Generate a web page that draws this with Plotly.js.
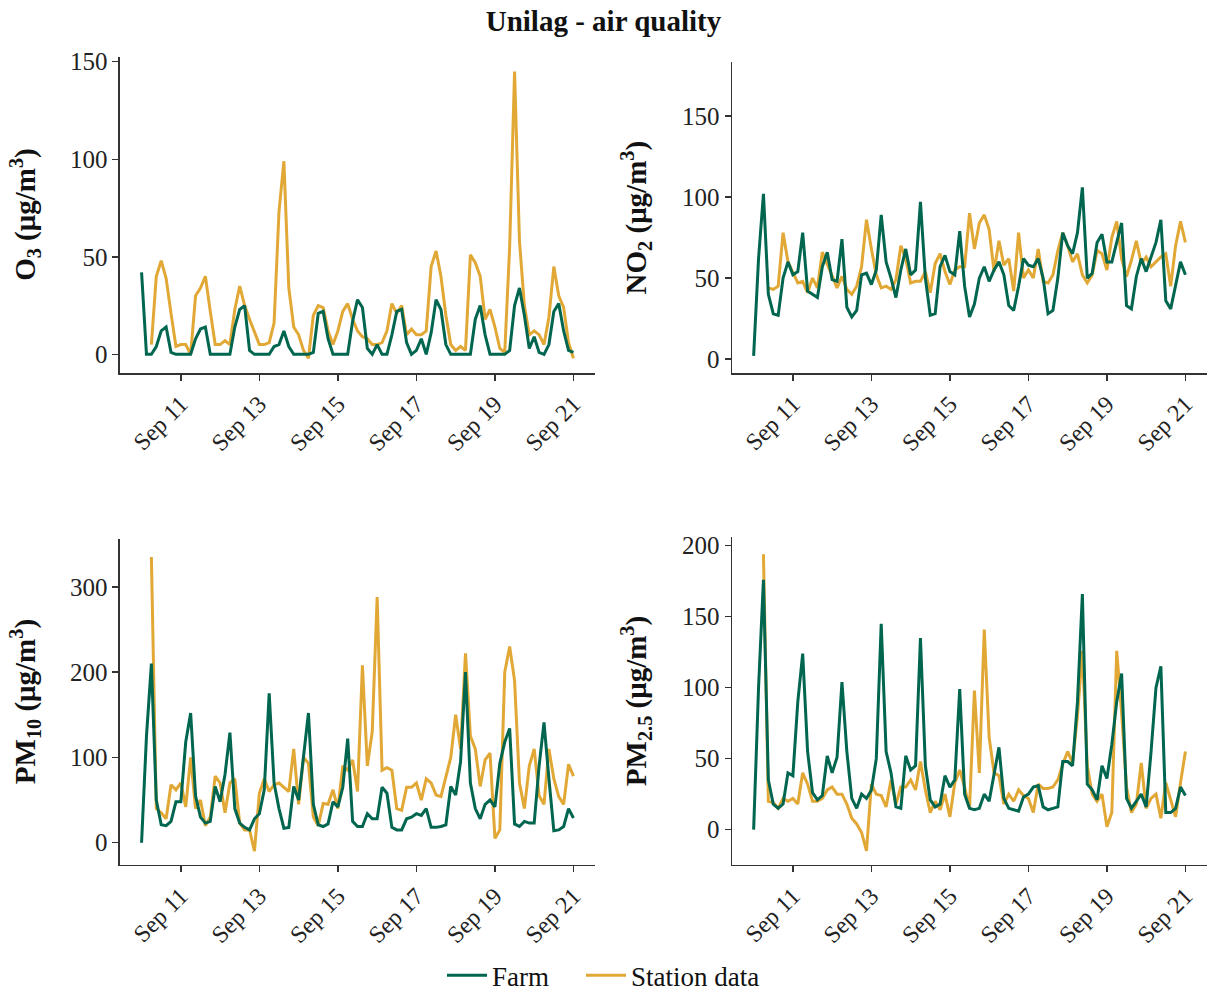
<!DOCTYPE html>
<html>
<head>
<meta charset="utf-8">
<script src="https://cdn.plot.ly/plotly-3.0.1.min.js"></script>
<style>
  html, body { margin: 0; padding: 0; background: #ffffff; }
  #chart { width: 1207px; height: 994px; }
</style>
</head>
<body>
<div id="chart"></div>
<script>
// Readings every 3 hours, 2023-09-10 00:00 through 2023-09-21 00:00 (89 samples).
const START = '2023-09-10';
const STEP_HOURS = 3;

// O3 (µg/m³)
const o3Farm = [
  42, 0, 0, 4, 12, 14, 1, 0,
  0, 0, 0, 8, 13, 14, 0, 0,
  0, 0, 0, 14, 23, 25, 2, 0,
  0, 0, 0, 4, 5, 12, 4, 0,
  0, 0, 0, 1, 21, 22, 8, 0,
  0, 0, 0, 17, 28, 24, 3, 0,
  5, 0, 0, 10, 22, 23, 6, 0,
  2, 8, 0, 11, 28, 23, 5, 0,
  0, 0, 0, 0, 18, 25, 10, 0,
  0, 0, 0, 2, 25, 34, 20, 3,
  9, 1, 0, 5, 22, 26, 12, 2,
  1
];
const o3Station = [
  null, null, 5, 40, 48, 39, 21, 4,
  5, 5, 0, 30, 34, 40, 22, 5,
  5, 7, 5, 23, 35, 25, 18, 12,
  5, 5, 6, 16, 73, 99, 34, 14,
  10, 2, -2, 20, 25, 24, 12, 5,
  12, 22, 26, 18, 12, 9, 8, 5,
  5, 6, 12, 26, 21, 25, 10, 13,
  10, 10, 12, 45, 53, 40, 20, 5,
  2, 4, 2, 51, 47, 40, 18, 23,
  14, 3, 1, 55, 145, 58, 25, 10,
  12, 10, 5, 19, 45, 30, 24, 6,
  -2
];

// NO2 (µg/m³)
const no2Farm = [
  2, 62, 102, 40, 28, 27, 50, 60,
  52, 54, 78, 42, 40, 38, 57, 66,
  49, 48, 74, 32, 26, 30, 52, 53,
  46, 55, 89, 60, 50, 38, 55, 68,
  52, 55, 97, 50, 27, 28, 57, 64,
  54, 52, 79, 45, 26, 34, 50, 57,
  48, 55, 60, 52, 33, 30, 45, 62,
  58, 57, 62, 50, 28, 30, 50, 78,
  70, 65, 78, 106, 50, 53, 72, 77,
  60, 60, 72, 84, 33, 31, 51, 62,
  54, 63, 72, 86, 36, 31, 45, 60,
  52
];
const no2Station = [
  null, null, null, 44, 43, 45, 78, 60,
  54, 47, 48, 41, 50, 44, 66, 59,
  52, 44, 51, 43, 40, 45, 57, 86,
  68, 52, 44, 45, 43, 49, 70, 62,
  47, 48, 48, 54, 41, 59, 65, 54,
  46, 55, 57, 57, 90, 68, 84, 89,
  80, 54, 73, 58, 62, 42, 78, 50,
  55, 50, 68, 48, 47, 52, 67, 78,
  70, 60, 65, 52, 47, 52, 67, 65,
  55, 75, 85, 62, 51, 61, 73, 59,
  63, 57, 60, 63, 65, 45, 70, 85,
  72
];

// PM10 (µg/m³)
const pm10Farm = [
  0, 125, 210, 50, 21, 20, 25, 48,
  48, 118, 152, 55, 30, 23, 25, 66,
  48, 80, 129, 40, 23, 18, 15, 28,
  34, 62, 175, 70, 40, 17, 18, 66,
  50, 100, 152, 45, 21, 19, 22, 48,
  42, 65, 122, 25, 19, 19, 34, 28,
  28, 65, 58, 18, 15, 15, 28, 30,
  34, 32, 40, 18, 18, 19, 21, 66,
  56, 95, 200, 70, 40, 28, 45, 50,
  42, 93, 118, 134, 22, 19, 25, 23,
  23, 90, 141, 75, 14, 15, 19, 40,
  29
];
const pm10Station = [
  null, null, 335, 40, 35, 28, 68, 62,
  70, 42, 100, 40, 50, 20, 30, 78,
  70, 35, 70, 75, 23, 15, 15, -10,
  58, 75, 60, 68, 70, 65, 60, 110,
  45, 100, 93, 30, 20, 46, 45, 62,
  40, 90, 85, 97, 60, 208, 90, 130,
  288, 85, 88, 85, 40, 38, 65, 65,
  70, 50, 75, 70, 56, 54, 77, 100,
  150, 110, 222, 125, 110, 66, 97, 105,
  5, 15, 200, 230, 190, 70, 40, 90,
  110, 55, 45, 110, 75, 54, 45, 92,
  78
];

// PM2.5 (µg/m³)
const pm25Farm = [
  0, 100, 176, 35, 18, 15, 18, 40,
  38, 90, 124, 55, 26, 21, 24, 52,
  40, 51, 104, 55, 22, 15, 25, 22,
  28, 50, 145, 55, 40, 16, 15, 52,
  42, 45, 135, 45, 21, 16, 18, 38,
  30, 35, 99, 25, 15, 14, 15, 25,
  20, 40, 58, 22, 15, 14, 13, 23,
  25, 30, 31, 16, 14, 15, 16, 48,
  48, 45, 90, 166, 32, 28, 21, 45,
  36, 60, 90, 110, 22, 15, 20, 25,
  16, 55, 100, 115, 12, 12, 15, 30,
  24
];
const pm25Station = [
  null, null, 194, 20, 19, 15, 22, 20,
  22, 18, 40, 32, 20, 20, 22, 28,
  30, 25, 25, 18, 8, 4, -2, -15,
  32, 25, 24, 16, 35, 18, 30, 30,
  35, 28, 48, 28, 12, 20, 14, 25,
  9, 33, 42, 30, 15, 98, 40, 141,
  65, 40, 38, 18, 25, 20, 28, 24,
  22, 12, 32, 29, 29, 30, 35, 46,
  55, 47, 80, 126, 45, 25, 20, 25,
  2, 12, 126, 82, 30, 12, 18, 47,
  15, 22, 25, 8, 33, 20, 9, 33,
  55
];

const seriesNames = ['Farm', 'Station data'];
const panelTitles = [
  '<b>O<sub>3</sub> (μg/m<sup>3</sup>)</b>',
  '<b>NO<sub>2</sub> (μg/m<sup>3</sup>)</b>',
  '<b>PM<sub>10</sub> (μg/m<sup>3</sup>)</b>',
  '<b>PM<sub>2.5</sub> (μg/m<sup>3</sup>)</b>'
];

// Timestamps for the 3-hourly samples, written as plain date strings.
function pad(n) { return String(n).padStart(2, '0'); }
function timeIndex(count) {
  const base = Date.parse(START + 'T00:00:00Z');
  const out = [];
  for (let i = 0; i < count; i++) {
    const d = new Date(base + i * STEP_HOURS * 3600e3);
    out.push(d.getUTCFullYear() + '-' + pad(d.getUTCMonth() + 1) + '-' + pad(d.getUTCDate()) +
             ' ' + pad(d.getUTCHours()) + ':00');
  }
  return out;
}
const times = timeIndex(o3Farm.length);

const FONT = 'Liberation Serif, serif';
const FARM_COLOR = '#00664f';
const STATION_COLOR = '#e1a836';
// non-breaking spaces widen the gap after the first legend entry
const LEGEND_GAP = '\u00a0\u00a0\u00a0\u00a0';

const panels = [
  { farm: o3Farm, station: o3Station },
  { farm: no2Farm, station: no2Station },
  { farm: pm10Farm, station: pm10Station },
  { farm: pm25Farm, station: pm25Station }
];

const traces = [];
panels.forEach((p, i) => {
  const ax = i === 0 ? '' : String(i + 1);
  // station first so the farm line sits on top
  traces.push({
    x: times, y: p.station, type: 'scatter', mode: 'lines',
    name: seriesNames[1], legendgroup: 'station', legendrank: 2,
    showlegend: i === 0, connectgaps: false,
    line: { color: STATION_COLOR, width: 3 },
    xaxis: 'x' + ax, yaxis: 'y' + ax
  });
  traces.push({
    x: times, y: p.farm, type: 'scatter', mode: 'lines',
    name: seriesNames[0] + LEGEND_GAP, legendgroup: 'farm', legendrank: 1,
    showlegend: i === 0,
    line: { color: FARM_COLOR, width: 3 },
    xaxis: 'x' + ax, yaxis: 'y' + ax
  });
});

const xCommon = {
  type: 'date',
  range: ['2023-09-09 10:48', '2023-09-21 13:12'],
  tickmode: 'linear', tick0: '2023-09-11', dtick: 2 * 86400000,
  tickformat: '%b %d', tickangle: -45,
  showline: true, linecolor: '#333', linewidth: 1.5,
  ticks: 'outside', ticklen: 6, tickwidth: 1.5, tickcolor: '#333',
  showgrid: false, zeroline: false, automargin: false,
  tickfont: { family: FONT, size: 24, color: '#222' }
};
const yCommon = {
  showline: true, linecolor: '#333', linewidth: 1.5,
  ticks: 'outside', ticklen: 6, tickwidth: 1.5, tickcolor: '#333',
  showgrid: false, zeroline: false, tickmode: 'linear', tick0: 0, automargin: false,
  tickfont: { family: FONT, size: 25, color: '#222' }
};

const leftDom = [0.0994, 0.4930];
const rightDom = [0.6065, 1.0];
const yDoms = [[0.6247, 0.9430], [0.6247, 0.9379], [0.1298, 0.4574], [0.1298, 0.4594]];

const layout = {
  width: 1207, height: 994,
  margin: { l: 0, r: 0, t: 0, b: 0, autoexpand: false },
  paper_bgcolor: '#ffffff', plot_bgcolor: '#ffffff',
  font: { family: FONT, color: '#111', size: 24 },
  title: {
    text: '<b>Unilag - air quality</b>',
    x: 0.5, xanchor: 'center', y: 0.979, yanchor: 'middle',
    font: { family: FONT, size: 29, color: '#111' }
  },
  showlegend: true,
  legend: {
    orientation: 'h', x: 0.5, xanchor: 'center',
    y: 0.0185, yanchor: 'middle',
    font: { family: FONT, size: 27, color: '#111' },
    itemwidth: 40, traceorder: 'normal', bgcolor: 'rgba(0,0,0,0)'
  },
  xaxis:  Object.assign({}, xCommon, { domain: leftDom, anchor: 'y' }),
  yaxis:  Object.assign({}, yCommon, { domain: yDoms[0], anchor: 'x', range: [-9.6, 152.6], dtick: 50 }),
  xaxis2: Object.assign({}, xCommon, { domain: rightDom, anchor: 'y2' }),
  yaxis2: Object.assign({}, yCommon, { domain: yDoms[1], anchor: 'x2', range: [-8.6, 183.5], dtick: 50 }),
  xaxis3: Object.assign({}, xCommon, { domain: leftDom, anchor: 'y3' }),
  yaxis3: Object.assign({}, yCommon, { domain: yDoms[2], anchor: 'x3', range: [-26.1, 355.6], dtick: 100 }),
  xaxis4: Object.assign({}, xCommon, { domain: rightDom, anchor: 'y4' }),
  yaxis4: Object.assign({}, yCommon, { domain: yDoms[3], anchor: 'x4', range: [-24.9, 205.9], dtick: 50 }),
  annotations: panelTitles.map((t, i) => ({
    text: t, xref: 'paper', yref: 'paper',
    x: (i % 2 === 0 ? 25 : 636) / 1207,
    y: (yDoms[i][0] + yDoms[i][1]) / 2,
    xanchor: 'center', yanchor: 'middle',
    textangle: -90, showarrow: false,
    font: { family: FONT, size: 29, color: '#111' }
  }))
};

Plotly.newPlot('chart', traces, layout, { displayModeBar: false, staticPlot: true });
</script>
</body>
</html>
